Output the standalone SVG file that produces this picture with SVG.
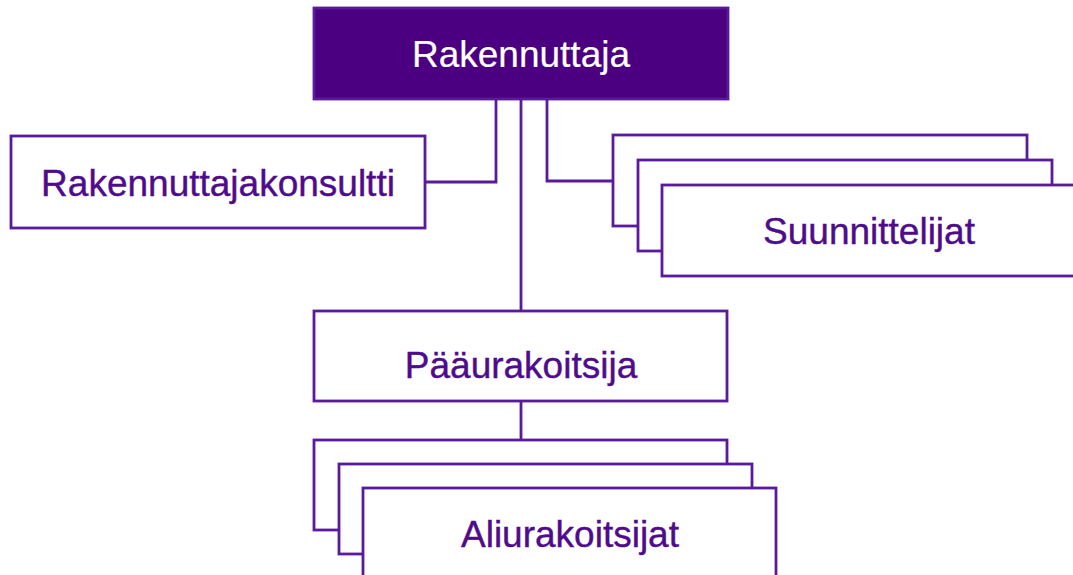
<svg xmlns="http://www.w3.org/2000/svg" width="1073" height="575" viewBox="0 0 1073 575">
  <style>
    .box { fill: #ffffff; stroke: #5a1a9c; stroke-width: 2.8; }
    .top { fill: #4b0082; stroke: #5a1a9c; stroke-width: 2.8; }
    .wire { fill: none; stroke: #5a1a9c; stroke-width: 2.8; }
    .label { font-family: "Liberation Sans", Arial, sans-serif; font-size: 37px; fill: #4e0c8c; stroke: #4e0c8c; stroke-width: 0.4; text-anchor: middle; }
    .label-light { fill: #ffffff; stroke: #ffffff; stroke-width: 0.2; }
  </style>
  <rect width="1073" height="575" fill="#ffffff"/>

  <!-- connectors -->
  <g id="connectors">
    <polyline class="wire" points="496,99 496,182 425,182"/>
    <line class="wire" x1="521" y1="99" x2="521" y2="311"/>
    <polyline class="wire" points="547,99 547,181 613,181"/>
    <line class="wire" x1="521" y1="401" x2="521" y2="440"/>
  </g>

  <g id="rakennuttaja">
    <rect class="top" x="314" y="8" width="414" height="91"/>
    <text class="label label-light" x="521" y="67">Rakennuttaja</text>
  </g>

  <g id="rakennuttajakonsultti">
    <rect class="box" x="11" y="136" width="414" height="92"/>
    <text class="label" x="218" y="196">Rakennuttajakonsultti</text>
  </g>

  <g id="suunnittelijat">
    <rect class="box" x="613" y="135" width="414" height="91"/>
    <rect class="box" x="638" y="160" width="414" height="91"/>
    <rect class="box" x="662" y="185" width="414" height="91"/>
    <text class="label" x="869" y="244">Suunnittelijat</text>
  </g>

  <g id="paaurakoitsija">
    <rect class="box" x="314" y="311" width="413" height="90"/>
    <text class="label" x="521" y="378">Pääurakoitsija</text>
  </g>

  <g id="aliurakoitsijat">
    <rect class="box" x="314" y="440" width="413" height="90"/>
    <rect class="box" x="339" y="464" width="413" height="90"/>
    <rect class="box" x="363" y="488" width="413" height="92"/>
    <text class="label" x="570" y="547">Aliurakoitsijat</text>
  </g>
</svg>
